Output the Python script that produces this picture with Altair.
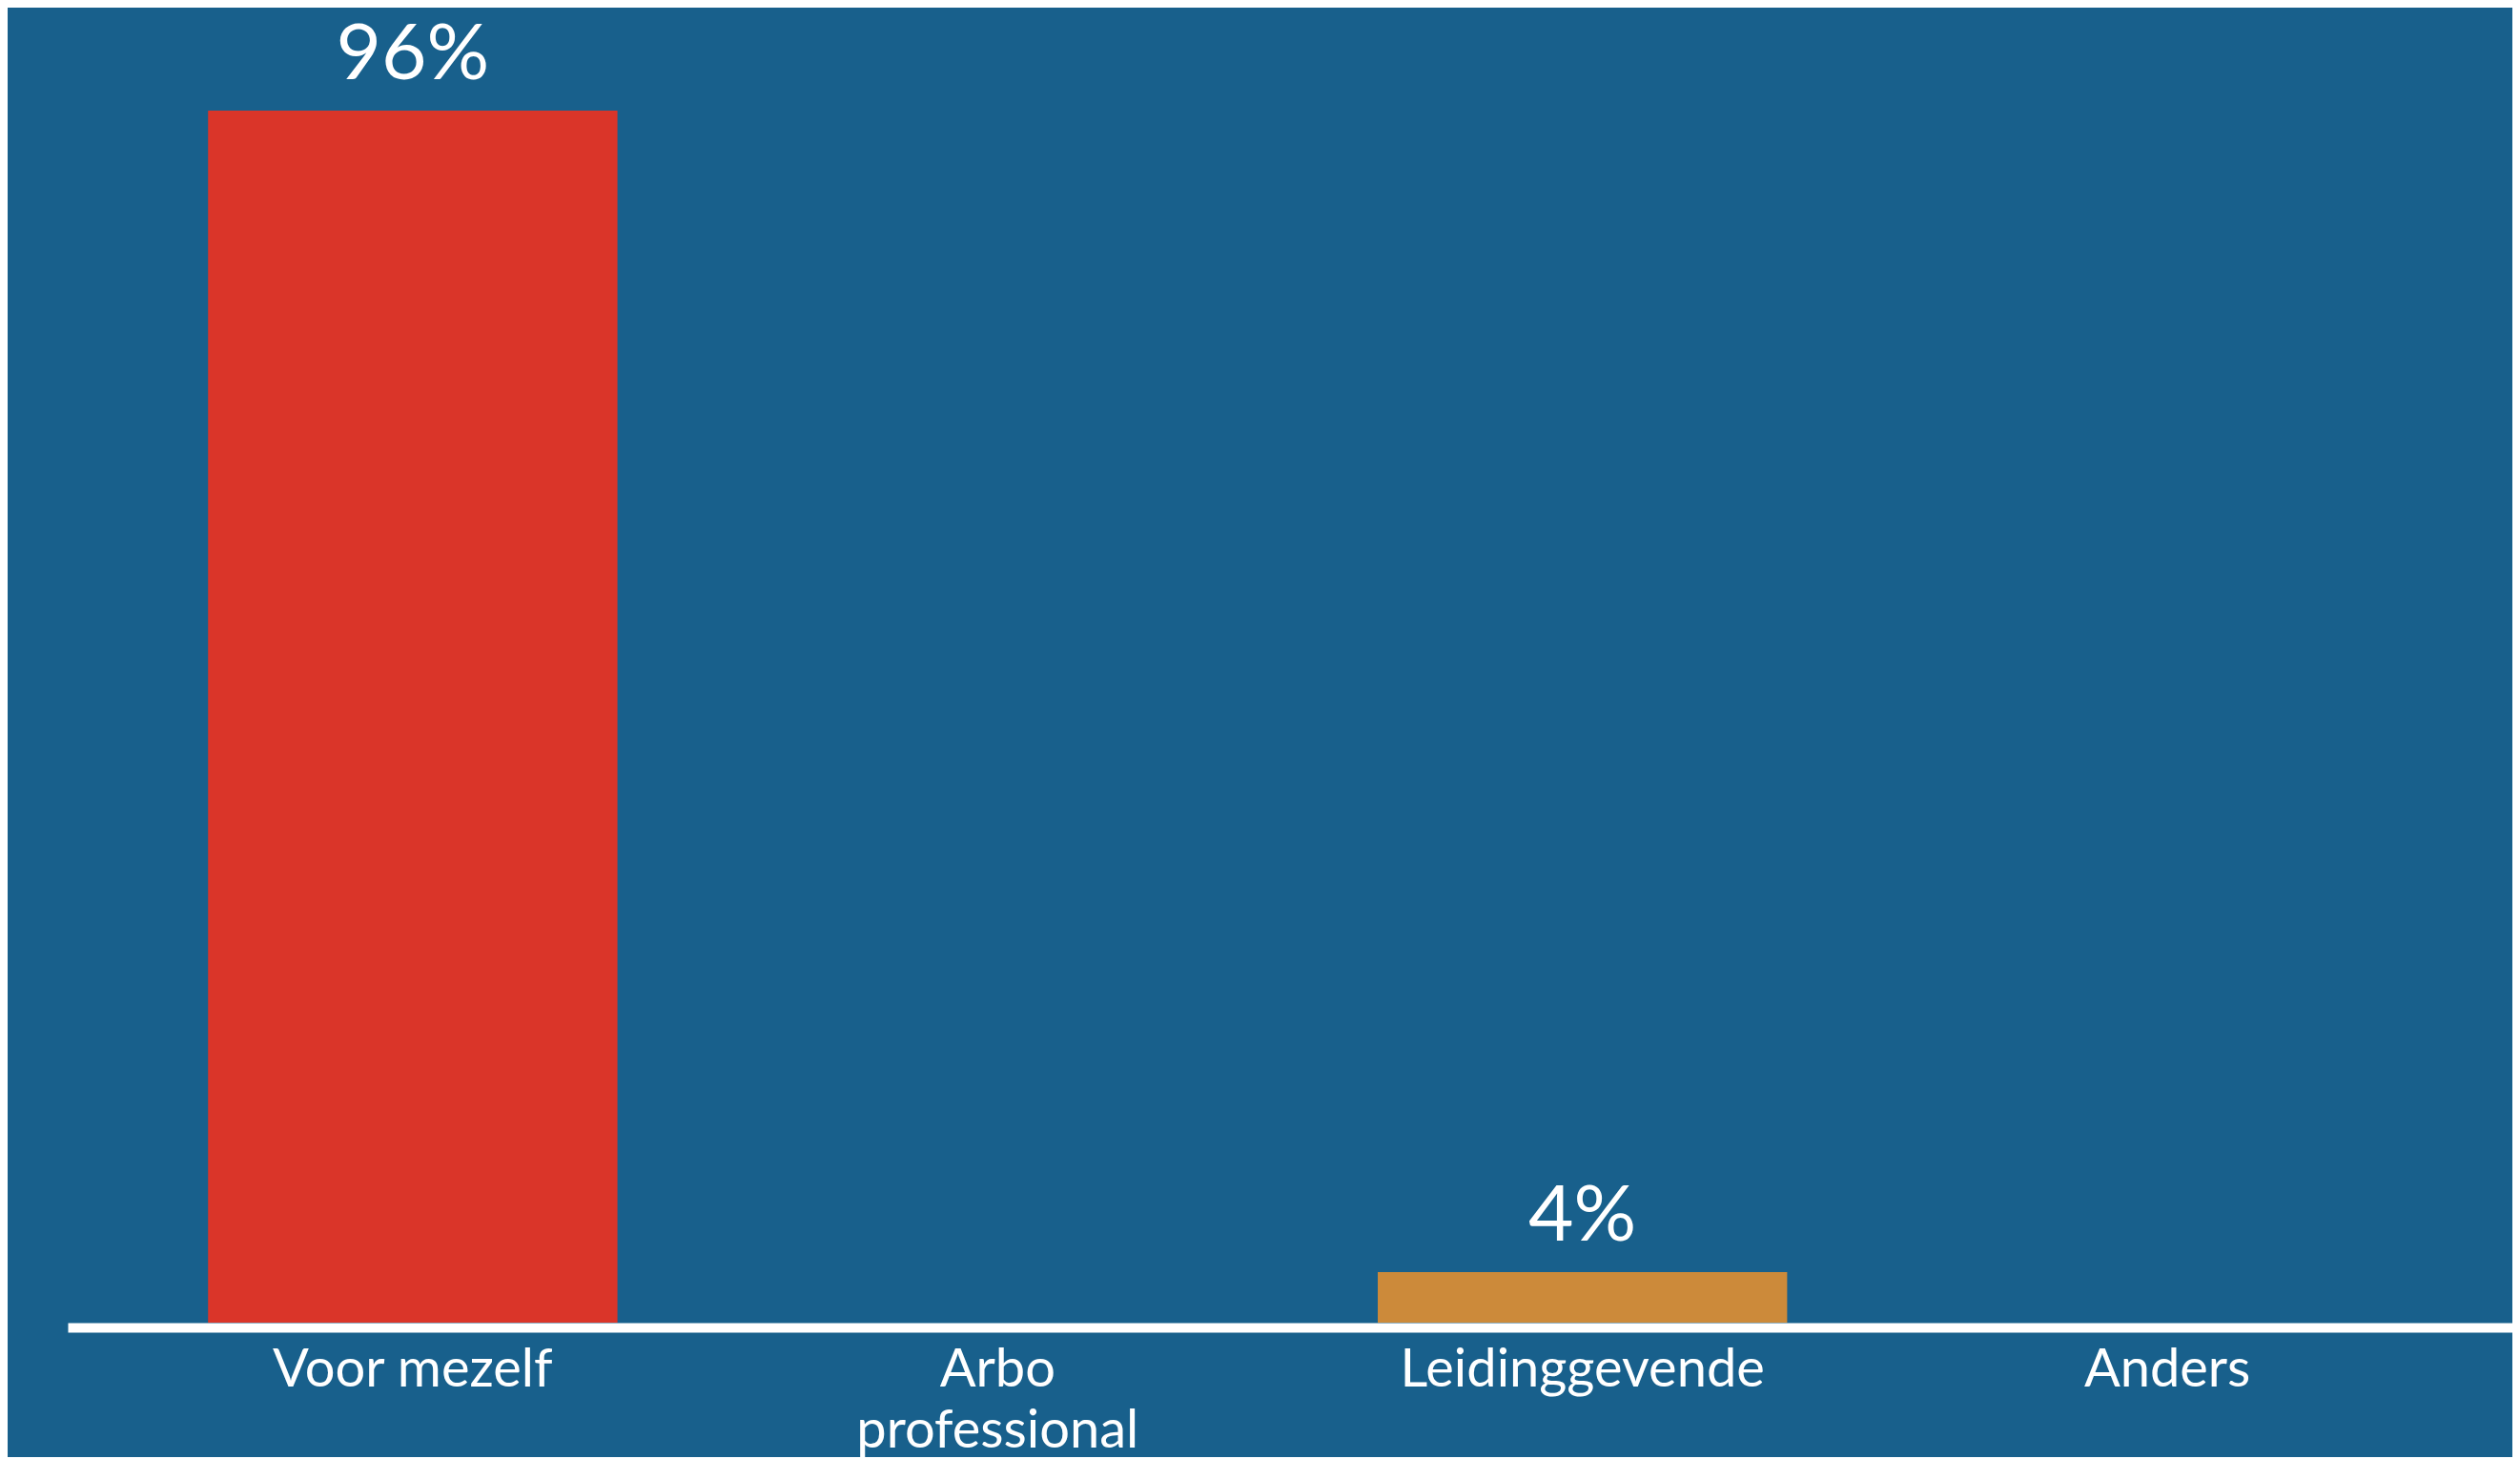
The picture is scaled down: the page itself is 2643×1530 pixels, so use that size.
import altair as alt
import pandas as pd

categories = ["Voor mezelf", "Arbo professional", "Leidinggevende", "Anders"]
values = [96, 0, 4, 0]
labels = ["96%", "", "4%", ""]
colors = ["#DA3529", "#DA3529", "#CC8A3A", "#CC8A3A"]

df = pd.DataFrame({"cat": categories, "value": values, "label": labels, "color": colors})

BG = "#18608C"

x = alt.X(
    "cat:N",
    sort=categories,
    scale=alt.Scale(paddingInner=0.3, paddingOuter=0.24),
    axis=alt.Axis(
        title=None,
        labelAngle=0,
        labelColor="white",
        labelFont="Lato",
        labelFontSize=56,
        labelLineHeight=64,
        labelPadding=17,
        labelLimit=0,
        labelBaseline="top",
        labelExpr="datum.label == 'Arbo professional' ? ['Arbo', 'professional'] : datum.label",
        domainColor="white",
        domainWidth=10,
        ticks=False,
        offset=5,
    ),
)
y = alt.Y(
    "value:Q",
    scale=alt.Scale(domain=[0, 100]),
    axis=None,
)

bars = alt.Chart(df).mark_bar().encode(
    x=x,
    y=y,
    color=alt.Color("color:N", scale=None),
)

text = alt.Chart(df).transform_filter("datum.value > 0").mark_text(
    font="Lato", fontSize=82, color="white", baseline="alphabetic", dy=-33
).encode(
    x=alt.X("cat:N", sort=categories),
    y=alt.Y("value:Q"),
    text="label:N",
)

chart = (
    alt.layer(bars, text)
    .properties(
        width=2564,
        height=1324,
        background=BG,
        padding={"left": 63, "top": 8, "right": 0, "bottom": 0},
    )
    .configure_view(stroke=None)
)

chart.save("out.html", embed_options={"renderer": "svg", "actions": False})
